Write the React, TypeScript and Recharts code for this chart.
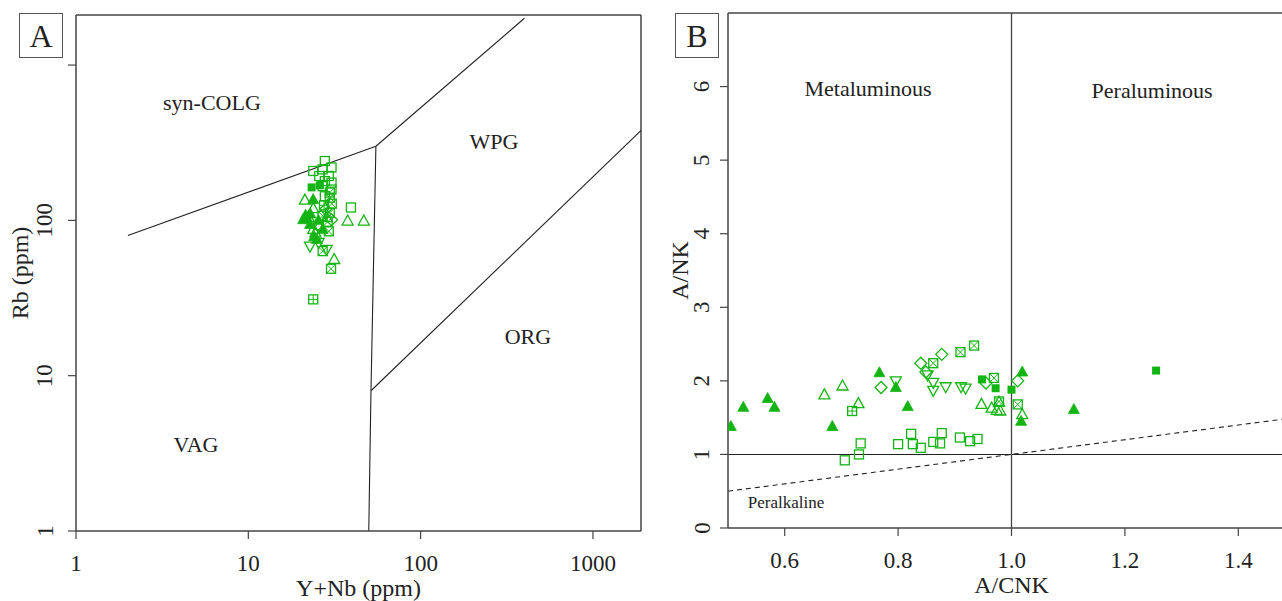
import React from "react"
import { ScatterChart, Scatter, XAxis, YAxis, ReferenceLine, ReferenceDot, Label } from "recharts"

const SERIF = '"Liberation Serif", "Times New Roman", serif'
const GREEN = "#14b414"
const INK = "#222"
const AXIS = "#444"

type Pt = [number, number]

// ---- Panel A: Rb vs Y+Nb (log-log) ----
const A_X_TICKS = [1, 10, 100, 1000]
const A_Y_TICKS = [1, 10, 100, 1000]
const A_OPEN_SQUARE: Pt[] = [[27.8, 241], [23.8, 208], [27, 213], [30.4, 219], [25.8, 193], [29.3, 193], [27.8, 179], [30.4, 175], [27, 166], [30.4, 158], [27.8, 143], [39.4, 121]]
const A_FILLED_SQUARE: Pt[] = [[23.3, 163], [26, 168]]
const A_SQUARE_CROSS: Pt[] = [[29.7, 151], [29.7, 140], [27, 107], [29.7, 112], [29.3, 85], [27, 63.4], [30.2, 48.8], [28.9, 98], [30.5, 128]]
const A_SQUARE_PLUS: Pt[] = [[23.8, 31], [27.5, 125]]
const A_OPEN_TRIANGLE: Pt[] = [[21.3, 135], [37.7, 99], [46.8, 99], [23.8, 119], [23.8, 87.5], [25.8, 92.4], [24.5, 83], [31.5, 56], [22.4, 104], [28.5, 104]]
const A_FILLED_TRIANGLE: Pt[] = [[23.8, 136], [20.8, 101], [21.8, 104], [22.8, 94], [27, 87.5], [24.1, 78.5], [25, 75.4], [22.9, 110], [25.5, 100], [21.5, 108]]
const A_INV_TRIANGLE: Pt[] = [[22.8, 68.3], [28.5, 65], [25.6, 72]]
const A_DIAMOND: Pt[] = [[30.4, 101], [28.1, 118]]

// discrimination boundaries (Pearce et al.)
const A_BOUNDARIES: Pt[][] = [
  [[2, 80], [55, 300]],
  [[55, 300], [400, 2000]],
  [[55, 300], [51.5, 8], [50, 1]],
  [[51.5, 8], [2000, 400]],
]
const A_FIELDS: { name: string; at: Pt }[] = [
  { name: "syn-COLG", at: [6.15, 577] },
  { name: "WPG", at: [266, 320] },
  { name: "ORG", at: [419, 17.8] },
  { name: "VAG", at: [4.97, 3.58] },
]

// ---- Panel B: A/NK vs A/CNK ----
const B_X_TICKS = [0.6, 0.8, 1.0, 1.2, 1.4]
const B_Y_TICKS = [0, 1, 2, 3, 4, 5, 6]
const B_FILLED_TRIANGLE: Pt[] = [[0.505, 1.38], [0.527, 1.64], [0.57, 1.76], [0.582, 1.64], [0.684, 1.38], [0.767, 2.11], [0.796, 1.91], [0.817, 1.65], [1.019, 2.12], [1.017, 1.45], [1.11, 1.61]]
const B_OPEN_TRIANGLE: Pt[] = [[0.67, 1.81], [0.702, 1.93], [0.73, 1.69], [0.947, 1.68], [0.965, 1.63], [0.974, 1.6], [0.98, 1.59], [1.019, 1.54], [0.978, 1.71]]
const B_OPEN_SQUARE: Pt[] = [[0.706, 0.92], [0.731, 1.0], [0.734, 1.15], [0.8, 1.14], [0.823, 1.28], [0.826, 1.14], [0.84, 1.09], [0.862, 1.17], [0.874, 1.15], [0.877, 1.29], [0.909, 1.23], [0.927, 1.18], [0.94, 1.21]]
const B_SQUARE_PLUS: Pt[] = [[0.719, 1.59]]
const B_DIAMOND: Pt[] = [[0.77, 1.91], [0.84, 2.24], [0.849, 2.12], [0.877, 2.36], [0.955, 1.97], [1.011, 2.0]]
const B_INV_TRIANGLE: Pt[] = [[0.796, 2.0], [0.852, 2.08], [0.862, 1.98], [0.862, 1.87], [0.884, 1.92], [0.911, 1.92], [0.919, 1.9]]
const B_SQUARE_CROSS: Pt[] = [[0.862, 2.24], [0.91, 2.39], [0.934, 2.48], [0.969, 2.04], [1.011, 1.68], [0.978, 1.72]]
const B_FILLED_SQUARE: Pt[] = [[0.948, 2.02], [0.972, 1.9], [1.0, 1.88], [1.255, 2.14]]
const B_PERALK_LINE: Pt[] = [[0.5, 0.5], [1.5, 1.5]]
const B_FIELDS: { name: string; at: Pt }[] = [
  { name: "Metaluminous", at: [0.747, 5.98] },
  { name: "Peraluminous", at: [1.248, 5.95] },
]

const toPts = (arr: Pt[]) => arr.map(([x, y]) => ({ x, y }))

type Kind = "openSquare" | "filledSquare" | "squareCross" | "squarePlus" | "openTri" | "filledTri" | "invTri" | "diamond"

function marker(kind: Kind) {
  return (p: any) => {
    const { cx, cy } = p
    if (cx == null || cy == null) return <g />
    const s = 4.5
    const sw = 1.3
    const sq = <rect x={cx - s} y={cy - s} width={2 * s} height={2 * s} fill="none" stroke={GREEN} strokeWidth={sw} />
    switch (kind) {
      case "openSquare":
        return sq
      case "filledSquare":
        return <rect x={cx - 4} y={cy - 4} width={8} height={8} fill={GREEN} />
      case "squareCross":
        return (
          <g>
            {sq}
            <path d={`M${cx - s},${cy - s}L${cx + s},${cy + s}M${cx + s},${cy - s}L${cx - s},${cy + s}`} stroke={GREEN} strokeWidth={1} />
          </g>
        )
      case "squarePlus":
        return (
          <g>
            {sq}
            <path d={`M${cx},${cy - s}L${cx},${cy + s}M${cx - s},${cy}L${cx + s},${cy}`} stroke={GREEN} strokeWidth={1} />
          </g>
        )
      case "openTri":
        return <polygon points={`${cx},${cy - 6} ${cx + 5.5},${cy + 4} ${cx - 5.5},${cy + 4}`} fill="none" stroke={GREEN} strokeWidth={sw} />
      case "filledTri":
        return <polygon points={`${cx},${cy - 6} ${cx + 5.5},${cy + 4} ${cx - 5.5},${cy + 4}`} fill={GREEN} stroke={GREEN} strokeWidth={0.8} />
      case "invTri":
        return <polygon points={`${cx - 5.5},${cy - 4} ${cx + 5.5},${cy - 4} ${cx},${cy + 6}`} fill="none" stroke={GREEN} strokeWidth={sw} />
      case "diamond":
        return <polygon points={`${cx},${cy - 6} ${cx + 6},${cy} ${cx},${cy + 6} ${cx - 6},${cy}`} fill="none" stroke={GREEN} strokeWidth={sw} />
    }
    return <g />
  }
}

const XTick = (fmt: (v: number) => string) => (p: any) => (
  <text x={p.x} y={p.y + 20} textAnchor="middle" dominantBaseline="central" fontSize={23} fontFamily={SERIF} fill={INK}>
    {fmt(p.payload.value)}
  </text>
)

const YTick = (dx: number, hide: number[] = []) => (p: any) => {
  if (hide.includes(p.payload.value)) return <g />
  const x = p.x + dx
  return (
    <text x={x} y={p.y} transform={`rotate(-90 ${x} ${p.y})`} textAnchor="middle" dominantBaseline="central" fontSize={23} fontFamily={SERIF} fill={INK}>
      {String(p.payload.value)}
    </text>
  )
}

const xTitle = (text: string) => (p: any) => {
  const vb = p.viewBox
  return (
    <text x={vb.x + vb.width / 2} y={vb.y + 57} textAnchor="middle" dominantBaseline="central" fontSize={24} fontFamily={SERIF} fill={INK}>
      {text}
    </text>
  )
}

const yTitle = (text: string, dx: number) => (p: any) => {
  const vb = p.viewBox
  const x = vb.x + dx
  const y = vb.y + vb.height / 2
  return (
    <text x={x} y={y} transform={`rotate(-90 ${x} ${y})`} textAnchor="middle" dominantBaseline="central" fontSize={24} fontFamily={SERIF} fill={INK}>
      {text}
    </text>
  )
}

const fieldLabel = (name: string, anchor: "middle" | "start", size: number) => (p: any) => {
  const vb = p.viewBox
  return (
    <text x={vb.x + (vb.width || 0) / 2} y={vb.y + (vb.height || 0) / 2} textAnchor={anchor} dominantBaseline="central" fontSize={size} fontFamily={SERIF} fill={INK}>
      {name}
    </text>
  )
}

const segments = (path: Pt[]) =>
  path.slice(1).map((pt, i) => [{ x: path[i][0], y: path[i][1] }, { x: pt[0], y: pt[1] }])

const axisLine = { stroke: AXIS, strokeWidth: 1.5 }
const tickLine = { stroke: AXIS, strokeWidth: 1.2 }

const BOX: React.CSSProperties = {
  position: "absolute",
  width: 42,
  height: 43,
  border: "1px solid #555",
  background: "#fff",
  fontFamily: SERIF,
  fontSize: 32,
  color: INK,
  display: "flex",
  alignItems: "center",
  justifyContent: "center",
  lineHeight: 1,
}

function PanelA() {
  return (
    <ScatterChart width={660} height={601} margin={{ top: 15, right: 19, bottom: 10, left: 16 }}>
      <XAxis type="number" dataKey="x" scale="log" domain={[1, 1900]} allowDataOverflow ticks={A_X_TICKS}
        tickSize={8} tickMargin={4} height={60} axisLine={axisLine} tickLine={tickLine} tick={XTick((v) => String(v))}>
        <Label content={xTitle("Y+Nb (ppm)")} />
      </XAxis>
      <YAxis type="number" dataKey="y" scale="log" domain={[1, 2100]} allowDataOverflow ticks={A_Y_TICKS}
        tickSize={8} tickMargin={4} width={60} axisLine={axisLine} tickLine={tickLine} tick={YTick(-19, [1000])}>
        <Label content={yTitle("Rb (ppm)", 4)} />
      </YAxis>
      <ReferenceLine y={2100} stroke={AXIS} strokeWidth={1.5} />
      <ReferenceLine x={1900} stroke={AXIS} strokeWidth={1.5} />
      {A_BOUNDARIES.flatMap((path, k) =>
        segments(path).map((seg, i) => (
          <ReferenceLine key={`b${k}-${i}`} segment={seg} stroke="#222" strokeWidth={1.1} ifOverflow="hidden" />
        ))
      )}
      {A_FIELDS.map((f) => (
        <ReferenceDot key={f.name} x={f.at[0]} y={f.at[1]} r={0} fill="none" stroke="none" label={fieldLabel(f.name, "middle", 22)} />
      ))}
      <Scatter data={toPts(A_OPEN_SQUARE)} shape={marker("openSquare")} isAnimationActive={false} />
      <Scatter data={toPts(A_FILLED_SQUARE)} shape={marker("filledSquare")} isAnimationActive={false} />
      <Scatter data={toPts(A_SQUARE_CROSS)} shape={marker("squareCross")} isAnimationActive={false} />
      <Scatter data={toPts(A_SQUARE_PLUS)} shape={marker("squarePlus")} isAnimationActive={false} />
      <Scatter data={toPts(A_OPEN_TRIANGLE)} shape={marker("openTri")} isAnimationActive={false} />
      <Scatter data={toPts(A_FILLED_TRIANGLE)} shape={marker("filledTri")} isAnimationActive={false} />
      <Scatter data={toPts(A_INV_TRIANGLE)} shape={marker("invTri")} isAnimationActive={false} />
      <Scatter data={toPts(A_DIAMOND)} shape={marker("diamond")} isAnimationActive={false} />
    </ScatterChart>
  )
}

function PanelB() {
  return (
    <ScatterChart width={650} height={601} margin={{ top: 13, right: 15, bottom: 13, left: 8 }}>
      <XAxis type="number" dataKey="x" domain={[0.5, 1.5]} allowDataOverflow ticks={B_X_TICKS}
        tickSize={8} tickMargin={4} height={60} axisLine={axisLine} tickLine={tickLine} tick={XTick((v) => v.toFixed(1))}>
        <Label content={xTitle("A/CNK")} />
      </XAxis>
      <YAxis type="number" dataKey="y" domain={[0, 7]} allowDataOverflow ticks={B_Y_TICKS}
        tickSize={8} tickMargin={4} width={60} axisLine={axisLine} tickLine={tickLine} tick={YTick(-14)}>
        <Label content={yTitle("A/NK", 12)} />
      </YAxis>
      <ReferenceLine y={7} stroke={AXIS} strokeWidth={1.5} />
      <ReferenceLine y={1} stroke="#222" strokeWidth={1.1} />
      <ReferenceLine x={1} stroke="#444" strokeWidth={1.3} />
      <ReferenceLine segment={segments(B_PERALK_LINE)[0]} stroke="#222" strokeWidth={1.1} strokeDasharray="5 4" ifOverflow="hidden" />
      {B_FIELDS.map((f) => (
        <ReferenceDot key={f.name} x={f.at[0]} y={f.at[1]} r={0} fill="none" stroke="none" label={fieldLabel(f.name, "middle", 22)} />
      ))}
      <ReferenceDot x={0.535} y={0.34} r={0} fill="none" stroke="none" label={fieldLabel("Peralkaline", "start", 17)} />
      <Scatter data={toPts(B_OPEN_SQUARE)} shape={marker("openSquare")} isAnimationActive={false} />
      <Scatter data={toPts(B_FILLED_SQUARE)} shape={marker("filledSquare")} isAnimationActive={false} />
      <Scatter data={toPts(B_SQUARE_CROSS)} shape={marker("squareCross")} isAnimationActive={false} />
      <Scatter data={toPts(B_SQUARE_PLUS)} shape={marker("squarePlus")} isAnimationActive={false} />
      <Scatter data={toPts(B_OPEN_TRIANGLE)} shape={marker("openTri")} isAnimationActive={false} />
      <Scatter data={toPts(B_FILLED_TRIANGLE)} shape={marker("filledTri")} isAnimationActive={false} />
      <Scatter data={toPts(B_INV_TRIANGLE)} shape={marker("invTri")} isAnimationActive={false} />
      <Scatter data={toPts(B_DIAMOND)} shape={marker("diamond")} isAnimationActive={false} />
    </ScatterChart>
  )
}

export default function App() {
  return (
    <div style={{ position: "absolute", left: 0, top: 0, width: 1282, height: 601, overflow: "hidden", background: "#fff" }}>
      <div style={{ position: "absolute", left: 0, top: 0 }}>
        <PanelA />
      </div>
      <div style={{ position: "absolute", left: 660, top: 0 }}>
        <PanelB />
      </div>
      <div style={{ ...BOX, left: 19, top: 13 }}>A</div>
      <div style={{ ...BOX, left: 675, top: 13 }}>B</div>
    </div>
  )
}
